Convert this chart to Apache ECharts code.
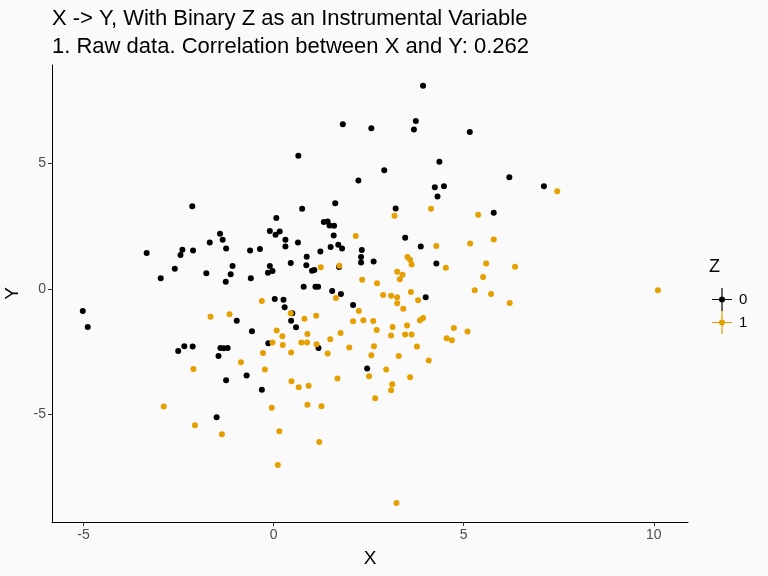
<!DOCTYPE html>
<html>
<head>
<meta charset="utf-8">
<script src="https://cdn.jsdelivr.net/npm/echarts@6/dist/echarts.min.js"></script>
<style>
html,body{margin:0;padding:0;background:#fafafa;}
#chart{width:768px;height:576px;}
</style>
</head>
<body>
<div id="chart"></div>
<script>
// Z = 0 (black)
const x0 = [3.93,1.82,2.57,3.74,3.69,5.16,0.65,4.36,2.91,2.23,4.24,4.48,4.31,6.20,7.11,5.79,3.21,0.75,1.62,0.07,
  -0.10,0.05,0.16,0.31,0.31,-0.36,0.64,1.32,1.42,1.47,1.59,1.58,1.50,1.70,1.80,1.23,0.87,0.86,0.45,1.01,
  1.07,-0.15,-0.03,0.79,1.10,1.17,1.54,2.32,2.30,2.30,2.63,3.46,3.87,4.28,1.72,-2.14,-3.34,-2.97,-2.60,-2.45,
  -2.40,-2.12,-1.77,-1.68,-1.41,-1.34,-1.25,-1.08,-1.13,-1.26,-0.62,-0.60,-0.10,-5.02,-4.89,-0.97,-0.57,-2.51,-2.35,-2.13,
  -1.40,-1.31,-1.21,-1.45,-0.71,-1.25,-1.50,1.77,2.09,0.03,0.26,0.29,0.49,0.46,0.59,-0.14,1.18,-0.31,4.00,2.46];
const y0 = [8.09,6.56,6.40,6.69,6.35,6.25,5.31,5.07,4.73,4.32,4.05,4.09,3.68,4.45,4.09,3.04,3.21,3.20,3.41,2.83,
  2.31,2.16,2.29,1.96,1.69,1.59,1.85,2.67,2.69,2.53,2.52,2.13,1.67,1.76,1.61,1.49,1.28,0.95,1.03,0.73,
  0.76,0.65,0.72,0.09,0.09,0.09,-0.08,1.55,1.27,1.05,1.09,2.04,1.69,1.01,0.88,3.29,1.43,0.43,0.81,1.35,
  1.56,1.53,0.63,1.85,2.20,1.96,1.61,0.92,0.59,0.29,1.53,0.43,0.92,-0.88,-1.51,-1.27,-1.68,-2.47,-2.28,-2.29,
  -2.35,-2.36,-2.35,-2.67,-3.45,-3.63,-5.11,-0.20,-0.64,-0.40,-0.43,-0.73,-0.97,-1.27,-1.52,-2.16,-2.35,-4.01,-0.33,-3.17];
// Z = 1 (orange)
const x1 = [7.46,5.38,5.17,5.79,5.59,6.35,5.51,5.29,5.72,6.21,5.10,10.11,3.18,4.14,2.16,1.24,2.33,2.72,4.28,4.53,
  3.52,3.59,3.63,3.25,3.39,3.32,1.73,-1.66,-1.16,-0.86,-2.11,-2.89,-2.07,-1.36,-0.31,1.64,0.45,1.12,0.81,2.09,
  2.24,0.08,0.23,0.89,1.76,1.49,-0.03,0.24,0.73,0.88,1.13,1.99,-0.28,0.46,1.42,-0.23,1.68,0.47,0.92,0.66,
  -0.05,0.89,1.26,2.88,3.09,3.25,3.25,3.41,3.61,3.80,2.36,2.62,2.71,3.13,3.51,3.85,3.93,4.74,4.55,4.69,
  3.09,3.46,3.63,3.77,2.64,2.57,3.29,4.08,2.96,2.51,3.59,3.12,3.09,2.67,0.15,1.20,0.11,3.23];
const y1 = [3.89,2.96,1.81,1.97,1.01,0.89,0.48,-0.05,-0.20,-0.56,-1.69,-0.05,2.92,3.20,2.11,0.87,0.37,0.23,1.71,0.85,
  1.27,1.16,0.97,0.69,0.57,0.39,0.93,-1.11,-1.01,-2.92,-3.19,-4.68,-5.43,-5.79,-0.48,-0.36,-0.97,-1.07,-1.19,-1.29,
  -0.88,-1.65,-1.88,-1.79,-1.75,-2.00,-2.13,-2.23,-2.13,-2.13,-2.20,-2.33,-2.55,-2.53,-2.57,-3.21,-3.57,-3.67,-3.85,-3.91,
  -4.73,-4.61,-4.67,-0.24,-0.27,-0.33,-0.57,-0.79,-0.12,-0.45,-1.25,-1.28,-1.63,-1.51,-1.45,-1.25,-1.16,-1.55,-1.96,-2.04,
  -1.85,-1.81,-1.81,-2.29,-2.28,-2.64,-2.67,-2.85,-3.21,-3.48,-3.52,-3.79,-4.03,-4.35,-5.67,-6.09,-7.01,-8.52];
const xTicks = [-5, 0, 5, 10];
const yTicks = [-5, 0, 5];
const groups = ['0', '1'];
const titleText = 'X -> Y, With Binary Z as an Instrumental Variable\n1. Raw data. Correlation between X and Y: 0.262';

const zip = (a, b) => a.map((v, i) => [v, b[i]]);
const FONT = '"Liberation Sans", Arial, Helvetica, sans-serif';
// legend key: crosshair + dot, 20x23 box
const keyIcon = 'path://M0,10.9 L20,10.9 L20,12.1 L0,12.1 Z M9.4,0 L10.6,0 L10.6,23 L9.4,23 Z M10,8.5 A3,3 0 1,1 10,14.5 A3,3 0 1,1 10,8.5 Z';

const chart = echarts.init(document.getElementById('chart'), null, {renderer: 'canvas'});
chart.setOption({
  backgroundColor: '#fafafa',
  animation: false,
  textStyle: {fontFamily: FONT},
  title: [{
    text: titleText,
    left: 47, top: 0,
    textStyle: {fontSize: 22, fontWeight: 'normal', color: '#000', lineHeight: 28, fontFamily: FONT}
  }, {
    text: 'Z',
    left: 704, top: 253,
    textStyle: {fontSize: 18, fontWeight: 'normal', color: '#000', fontFamily: FONT}
  }],
  legend: {
    orient: 'vertical',
    left: 707, top: 283,
    itemWidth: 20, itemHeight: 23, itemGap: 0,
    data: groups.map(g => ({name: g, icon: keyIcon})),
    textStyle: {fontSize: 15, color: '#000', fontFamily: FONT, padding: [0, 0, 0, 2]}
  },
  grid: {left: 52, right: 80, top: 65, bottom: 54, containLabel: false, outerBoundsMode: 'none'},
  xAxis: {
    type: 'value', min: -5.83, max: 10.9,
    name: 'X', nameLocation: 'middle', nameGap: 27,
    nameTextStyle: {fontSize: 19, color: '#000', fontFamily: FONT},
    splitLine: {show: false},
    axisLine: {show: true, onZero: false, lineStyle: {color: '#000', width: 1}},
    axisTick: {show: true, length: 4, customValues: xTicks, lineStyle: {color: '#333'}},
    axisLabel: {customValues: xTicks, fontSize: 14, color: '#4d4d4d', margin: 6, fontFamily: FONT}
  },
  yAxis: {
    type: 'value', min: -9.28, max: 8.92,
    name: 'Y', nameLocation: 'middle', nameGap: 28, nameRotate: 90,
    nameTextStyle: {fontSize: 19, color: '#000', fontFamily: FONT},
    splitLine: {show: false},
    axisLine: {show: true, onZero: false, lineStyle: {color: '#000', width: 1}},
    axisTick: {show: true, length: 4, customValues: yTicks, lineStyle: {color: '#333'}},
    axisLabel: {customValues: yTicks, fontSize: 14, color: '#4d4d4d', margin: 6, fontFamily: FONT}
  },
  series: [{
    name: groups[0], type: 'scatter', symbolSize: 6,
    itemStyle: {color: '#000000', opacity: 1},
    data: zip(x0, y0)
  }, {
    name: groups[1], type: 'scatter', symbolSize: 6,
    itemStyle: {color: '#E69F00', opacity: 1},
    data: zip(x1, y1)
  }]
});
</script>
</body>
</html>
